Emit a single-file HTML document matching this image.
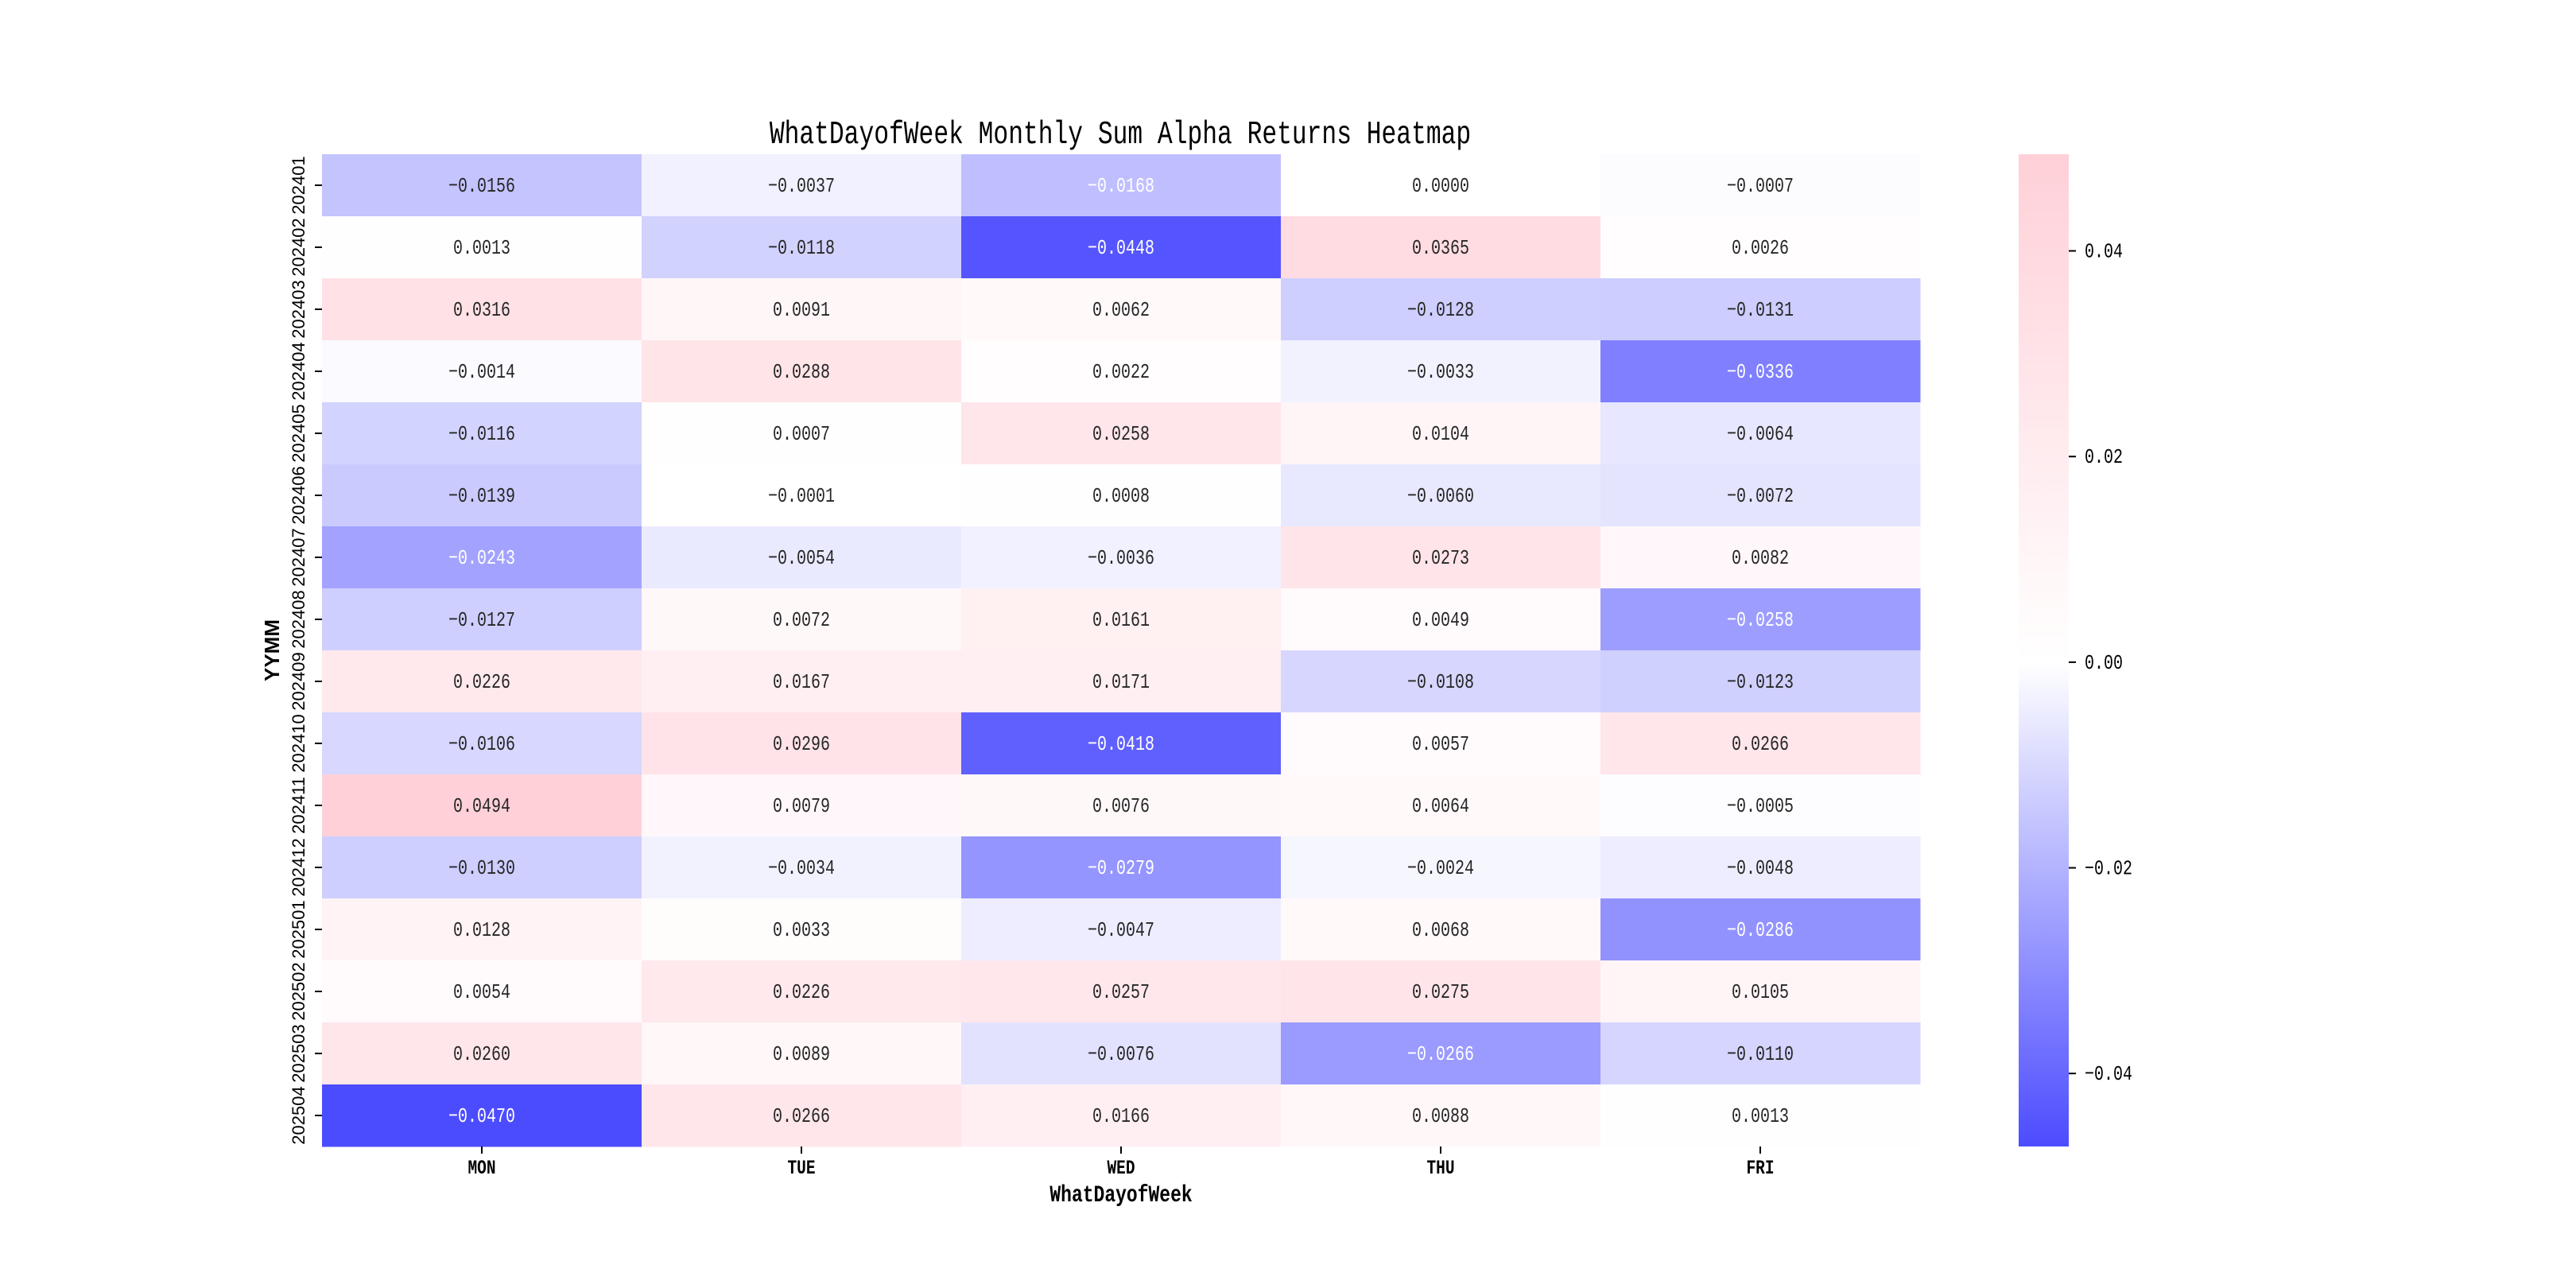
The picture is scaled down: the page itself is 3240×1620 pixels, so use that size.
<!DOCTYPE html>
<html><head><meta charset="utf-8"><style>
html,body{margin:0;padding:0;background:#fff;}
svg{display:block;}
</style></head><body>
<svg id="chart" width="3240" height="1620" viewBox="0 0 3240 1620" xmlns="http://www.w3.org/2000/svg">
<g id="cells"></g>
<g id="yaxis"></g>
<g id="xaxis"></g>
<g id="cbar"></g>
</svg>
<script>
const rows = ["202401","202402","202403","202404","202405","202406","202407","202408","202409","202410","202411","202412","202501","202502","202503","202504"];
const cols = ["MON","TUE","WED","THU","FRI"];
const mon = [-0.0156,0.0013,0.0316,-0.0014,-0.0116,-0.0139,-0.0243,-0.0127,0.0226,-0.0106,0.0494,-0.0130,0.0128,0.0054,0.0260,-0.0470];
const tue = [-0.0037,-0.0118,0.0091,0.0288,0.0007,-0.0001,-0.0054,0.0072,0.0167,0.0296,0.0079,-0.0034,0.0033,0.0226,0.0089,0.0266];
const wed = [-0.0168,-0.0448,0.0062,0.0022,0.0258,0.0008,-0.0036,0.0161,0.0171,-0.0418,0.0076,-0.0279,-0.0047,0.0257,-0.0076,0.0166];
const thu = [0.0000,0.0365,-0.0128,-0.0033,0.0104,-0.0060,0.0273,0.0049,-0.0108,0.0057,0.0064,-0.0024,0.0068,0.0275,-0.0266,0.0088];
const fri = [-0.0007,0.0026,-0.0131,-0.0336,-0.0064,-0.0072,0.0082,-0.0258,-0.0123,0.0266,-0.0005,-0.0048,-0.0286,0.0105,-0.0110,0.0013];
const cbTicks = [0.04,0.02,0.00,-0.02,-0.04];
const series = [mon,tue,wed,thu,fri];
const vmin = -0.0471, vmax = 0.0494;

const NS = "http://www.w3.org/2000/svg";
const L = 405, T = 194, W = 2010, H = 1248;
const cw = W / cols.length, rh = H / rows.length;
const xPos = i => L + cw * i;
const yPos = j => T + rh * j;
function color(v){
  let r,g,b;
  if (v < 0){ const t = Math.min(1, v / vmin); r = 255 - 179*t; g = r; b = 255; }
  else { const t = Math.min(1, v / vmax); r = 255; g = 255 - 47*t; b = 255 - 39*t; }
  return `rgb(${Math.round(r)},${Math.round(g)},${Math.round(b)})`;
}
function mk(tag, attrs, parent){
  const e = document.createElementNS(NS, tag);
  for (const k in attrs) e.setAttribute(k, attrs[k]);
  parent.appendChild(e); return e;
}
function stretchText(parent, x, y, str, size, fill, weight){
  const g = mk('g', {transform:`translate(${x},${y}) scale(1,1.3)`}, parent);
  const t = mk('text', {x:0, y:0, 'text-anchor':'middle', 'font-family':'Liberation Mono, monospace', 'font-size':size, fill:fill, 'font-weight':weight||'normal'}, g);
  t.textContent = str;
  return t;
}
const cells = document.getElementById('cells');
series.forEach((arr, i) => {
  arr.forEach((v, j) => {
    const r = mk('rect', {x:xPos(i), y:yPos(j), width:cw+0.5, height:rh+0.5, fill:color(v)}, cells);
    
    
  });
});
series.forEach((arr, i) => {
  arr.forEach((v, j) => {
    const t = stretchText(cells, xPos(i)+cw/2, yPos(j)+rh/2+8, v.toFixed(4).replace('-', '\u2212'), 20, v < -0.016 ? '#fff' : '#262626');
    
    
  });
});
const ya = document.getElementById('yaxis');
rows.forEach((r, j) => {
  const cy = yPos(j) + rh/2;
  mk('line', {x1:L-9, x2:L, y1:cy, y2:cy, stroke:'#000', 'stroke-width':2}, ya);
  const t = mk('text', {x:0, y:0, transform:`translate(383,${cy}) rotate(-90)`, 'text-anchor':'middle', 'font-family':'Liberation Sans, sans-serif', 'font-size':22}, ya);
  t.textContent = r;
  
  
});
const yl = mk('text', {x:0, y:0, transform:`translate(351,${T+H/2}) rotate(-90)`, 'text-anchor':'middle', 'font-family':'Liberation Sans, sans-serif', 'font-size':26, 'font-weight':'bold'}, ya);
yl.textContent = 'YYMM';



const xa = document.getElementById('xaxis');
cols.forEach((c, i) => {
  const cx = xPos(i) + cw/2;
  mk('line', {x1:cx, x2:cx, y1:T+H, y2:T+H+9, stroke:'#000', 'stroke-width':2}, xa);
  const t = stretchText(xa, cx, 1476, c, 19.5, '#000', 'bold');
  
  
});
const xl = stretchText(xa, L+W/2, 1511, 'WhatDayofWeek', 23, '#000', 'bold');


const tt = stretchText(xa, 1409, 180, 'WhatDayofWeek Monthly Sum Alpha Returns Heatmap', 31.3, '#000', 'normal');



// colorbar
const cb = document.getElementById('cbar');
const CX = 2539, CW = 63, CT = 194, CB = 1442;
const cy = v => CT + (vmax - v) / (vmax - vmin) * (CB - CT);
const defs = mk('defs', {}, cb);
const grad = mk('linearGradient', {id:'cbg', x1:0, y1:0, x2:0, y2:1}, defs);
mk('stop', {offset:0, 'stop-color':color(vmax)}, grad);
mk('stop', {offset:(cy(0)-CT)/(CB-CT), 'stop-color':'#fff'}, grad);
mk('stop', {offset:1, 'stop-color':color(vmin)}, grad);
const cr = mk('rect', {x:CX, y:CT, width:CW, height:CB-CT, fill:'url(#cbg)'}, cb);


cbTicks.forEach(v => {
  const y = cy(v);
  mk('line', {x1:CX+CW, x2:CX+CW+9, y1:y, y2:y, stroke:'#000', 'stroke-width':2}, cb);
  const g = mk('g', {transform:`translate(2622,${y+8}) scale(1,1.3)`}, cb);
  const t = mk('text', {x:0, y:0, 'font-family':'Liberation Mono, monospace', 'font-size':20}, g);
  t.textContent = (v < 0 ? '\u2212' : '') + Math.abs(v).toFixed(2);
  
  
});
</script>
</body></html>
